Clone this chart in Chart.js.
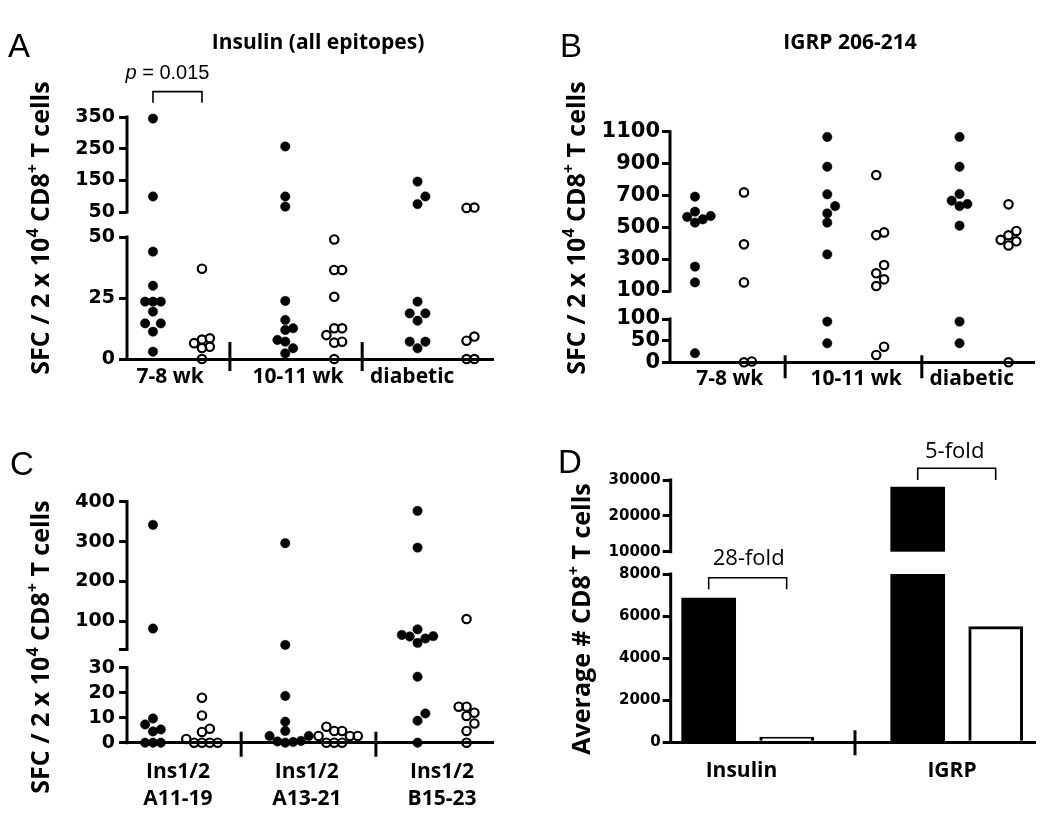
<!DOCTYPE html>
<html>
<head>
<meta charset="utf-8">
<script src="https://cdn.jsdelivr.net/npm/chart.js@4/dist/chart.umd.min.js"></script>
<style>
  html, body { margin: 0; padding: 0; background: #fff; }
  #wrap { position: relative; width: 1050px; height: 825px; }
  canvas { position: absolute; }
</style>
</head>
<body>
<div id="wrap">
  <canvas id="cA" width="525" height="410" style="left:0;top:0"></canvas>
  <canvas id="cB" width="525" height="410" style="left:525px;top:0"></canvas>
  <canvas id="cC" width="525" height="415" style="left:0;top:410px"></canvas>
  <canvas id="cD" width="525" height="415" style="left:525px;top:410px"></canvas>
</div>
<script>
// values (SFC / 2x10^4 CD8+ T cells), filled = one strain, open = the other
const AGE_GROUPS = ['7-8 wk', '10-11 wk', 'diabetic'];

// A - insulin (all epitopes)
const INS_FILLED = [
  [345, 99, 44, 30, 23.5, 23.5, 23.5, 19.4, 14.6, 14.6, 11.2, 3],
  [257, 99, 67, 23.8, 16, 12.6, 11.9, 7.8, 7.1, 4.4, 2.3],
  [146, 99, 75, 23.5, 18.7, 18.7, 15.7, 7.1, 7.1, 4.4]
];
const INS_OPEN = [
  [37, 8.5, 8, 6.5, 5, 4.5, 0],
  [49, 36.5, 36.5, 25.5, 12.6, 12.6, 9.8, 7.1, 6.7, 0],
  [64, 63, 9.2, 7.5, 0, 0]
];
const A_TICKS_LOW = [0, 25, 50];
const A_TICKS_UP = [50, 150, 250, 350];

// B - IGRP 206-214
const IGRP_FILLED = [
  [692, 598, 571, 565, 550, 529, 253, 154, 21],
  [1067, 880, 707, 633, 587, 529, 330, 94, 44],
  [1067, 880, 709, 667, 646, 633, 510, 94, 44]
];
const IGRP_OPEN = [
  [719, 393, 154, 2, 0],
  [828, 468, 451, 263, 211, 173, 131, 36, 17],
  [644, 477, 450, 421, 412, 386, 0]
];
const B_TICKS_LOW = [0, 50, 100];
const B_TICKS_UP = [100, 300, 500, 700, 900, 1100];

// C - single insulin epitopes
const EPITOPES = [['Ins1/2', 'A11-19'], ['Ins1/2', 'A13-21'], ['Ins1/2', 'B15-23']];
const EPI_FILLED = [
  [342, 82, 9.7, 7.3, 5.3, 4.5, 0, 0, 0],
  [296, 41, 18.7, 8.4, 4.7, 2.7, 2.7, 0.7, 0.5, 0.3, 0],
  [377, 285, 80, 66, 63, 62, 57, 46, 26.4, 11.7, 8.8, 0]
];
const EPI_OPEN = [
  [18, 10.9, 5.6, 4.3, 1.5, 0, 0, 0, 0],
  [6.4, 4.7, 4.7, 2.7, 2.7, 2.7, 0, 0, 0],
  [106, 14.4, 14.4, 12, 10.7, 7.7, 4.7, 0]
];
const C_TICKS_LOW = [0, 10, 20, 30];
const C_TICKS_UP = [30, 100, 200, 300, 400];

// D - average number of CD8+ T cells
const D_CATS = ['Insulin', 'IGRP'];
const D_FILLED = [6850, 28000];
const D_OPEN = [250, 5500];
const D_TICKS_LOW = [0, 2000, 4000, 6000, 8000];
const D_TICKS_UP = [10000, 20000, 30000];

const SFC_TITLE = [{t: 'SFC / 2 x 10'}, {t: '4', sup: true}, {t: ' CD8'}, {t: '+', sup: true}, {t: ' T cells'}];
const AVG_TITLE = [{t: 'Average # CD8'}, {t: '+', sup: true}, {t: ' T cells'}];

const SANS = "'Open Sans'";
const TICKFONT = "'DejaVu Sans'";

// broken axis: value -> display units (display units are pixels of the plot area)
function makeBreak(b) {
  b.total = b.lowH + b.gapH + b.upH;
  b.low = v => v / b.lowMax * b.lowH;
  b.up = v => b.lowH + b.gapH + (v - b.upMin) / (b.upMax - b.upMin) * b.upH;
  b.map = v => v <= b.lowMax ? b.low(v) : b.up(v);
  return b;
}

// simple beeswarm so equal values sit side by side
function swarm(values, base, step, tol, disp) {
  const order = [0, 1, -1, 2, -2, 3, -3];
  const placed = [];
  return values.slice().sort((a, b) => a - b).map(v => {
    const y = disp(v);
    const k = order.find(o => !placed.some(p => p.k === o && Math.abs(p.y - y) < tol));
    placed.push({k, y});
    return {x: base + k * step, y};
  });
}

function line(ctx, x1, y1, x2, y2) {
  ctx.beginPath(); ctx.moveTo(x1, y1); ctx.lineTo(x2, y2); ctx.stroke();
}

function drawRich(ctx, parts, cx, cy, font) {
  let w = 0;
  parts.forEach(p => { ctx.font = (p.italic ? 'italic ' : '') + font; p.w = ctx.measureText(p.t).width; w += p.w; });
  let x = cx - w / 2;
  ctx.textBaseline = 'middle'; ctx.textAlign = 'left';
  parts.forEach(p => { ctx.font = (p.italic ? 'italic ' : '') + font; ctx.fillText(p.t, x, cy); x += p.w; });
}

function drawVTitle(ctx, parts, cx, cy, size) {
  const big = `bold ${size}px ${SANS}`, small = `bold ${Math.round(size * 0.62)}px ${SANS}`;
  ctx.save();
  ctx.translate(cx, cy);
  ctx.rotate(-Math.PI / 2);
  let w = 0;
  parts.forEach(p => { ctx.font = p.sup ? small : big; p.w = ctx.measureText(p.t).width; w += p.w; });
  let x = -w / 2;
  ctx.textBaseline = 'middle'; ctx.textAlign = 'left';
  parts.forEach(p => { ctx.font = p.sup ? small : big; ctx.fillText(p.t, x, p.sup ? -size * 0.33 : 0); x += p.w; });
  ctx.restore();
}

function decoPlugin(cfg) {
  const b = cfg.brk;
  return {
    id: 'deco',
    afterDatasetsDraw(chart) {
      if (!cfg.whiteGap) return;
      const {ctx, chartArea: a, scales: {y}} = chart;
      const yt = y.getPixelForValue(b.lowH + b.gapH), yb = y.getPixelForValue(b.lowH);
      ctx.save();
      ctx.fillStyle = '#fff';
      ctx.fillRect(a.left + 2, yt, a.right - a.left, yb - yt);
      ctx.restore();
    },
    afterDraw(chart) {
      const {ctx, chartArea: a, scales: {x, y}} = chart;
      ctx.save();
      ctx.strokeStyle = '#000'; ctx.fillStyle = '#000';
      ctx.lineWidth = 3; ctx.lineCap = 'butt';
      // the two pieces of the y axis
      line(ctx, a.left, y.getPixelForValue(0) + 1.5, a.left, y.getPixelForValue(b.lowH) - 1.5);
      line(ctx, a.left, y.getPixelForValue(b.lowH + b.gapH) + 1.5, a.left, y.getPixelForValue(b.total) - 1.5);
      // group separators on the x axis
      cfg.sepPos.forEach(s => {
        const px = x.getPixelForValue(s);
        line(ctx, px, a.bottom - cfg.sepUp, px, a.bottom + cfg.sepDown);
      });
      // brackets
      ctx.lineWidth = 1.6;
      (cfg.brackets || []).forEach(br => {
        const x1 = x.getPixelForValue(br.x1), x2 = x.getPixelForValue(br.x2);
        const py = y.getPixelForValue(b.map(br.top));
        ctx.beginPath();
        ctx.moveTo(x1, py + br.leg); ctx.lineTo(x1, py); ctx.lineTo(x2, py); ctx.lineTo(x2, py + br.leg);
        ctx.stroke();
        drawRich(ctx, br.parts, (x1 + x2) / 2 + br.dx, py + br.dy, br.font);
      });
      // panel letter, title, y title
      ctx.textAlign = 'left'; ctx.textBaseline = 'alphabetic';
      ctx.font = `33px 'Liberation Sans'`;
      ctx.fillText(cfg.letter.t, cfg.letter.x, cfg.letter.y);
      if (cfg.title) {
        ctx.textAlign = 'center'; ctx.textBaseline = 'middle';
        ctx.font = `bold 21px ${SANS}`;
        ctx.fillText(cfg.title.t, cfg.title.x, cfg.title.y);
      }
      drawVTitle(ctx, cfg.ytitle.parts, cfg.ytitle.x, cfg.ytitle.y, cfg.ytitle.size);
      ctx.restore();
    }
  };
}

function yTickList(cfg) {
  const b = cfg.brk;
  return cfg.ticksLow.map(v => ({value: b.low(v), label: String(v)}))
    .concat(cfg.ticksUp.map(v => ({value: b.up(v), label: (cfg.hideUpMin && v === b.upMin) ? '' : String(v)})));
}

function baseOptions(cfg) {
  const a = cfg.area, yt = yTickList(cfg);
  return {
    responsive: false, animation: false, events: [],
    layout: {padding: {left: 0, top: a.top, right: cfg.W - a.right, bottom: 0}},
    plugins: {legend: {display: false}, tooltip: {enabled: false}},
    scales: {
      x: {
        type: 'linear', min: cfg.xMin, max: cfg.xMax, offset: false,
        afterFit: s => { s.height = cfg.H - a.bottom; },
        afterBuildTicks: s => { s.ticks = cfg.labelPos.map(v => ({value: v})); },
        ticks: {
          autoSkip: false, maxRotation: 0, color: '#000', padding: cfg.xPad,
          font: {family: SANS, size: 21, weight: 'bold', lineHeight: 1.27},
          callback: (v, i) => cfg.labels[i]
        },
        grid: {display: false, drawTicks: false},
        border: {display: true, color: '#000', width: 3}
      },
      y: {
        type: 'linear', min: 0, max: cfg.brk.total,
        afterFit: s => { s.width = a.left; },
        afterBuildTicks: s => { s.ticks = yt.map(t => ({value: t.value})); },
        ticks: {
          autoSkip: false, color: '#000', padding: cfg.yPad,
          font: {family: TICKFONT, size: cfg.tickSize, weight: 'bold'},
          callback: (v, i) => yt[i].label
        },
        grid: {display: true, drawOnChartArea: false, drawTicks: true, tickLength: 8, color: '#000', lineWidth: 3},
        border: {display: false}
      }
    }
  };
}

function scatterPanel(id, cfg) {
  const b = makeBreak(cfg.brk);
  const filled = [], open = [];
  cfg.groupBase.forEach((g, i) => {
    filled.push(...swarm(cfg.filled[i], g, 0.16, 8.5, b.map));
    open.push(...swarm(cfg.open[i], g + 1, 0.16, 8.5, b.map));
  });
  new Chart(document.getElementById(id), {
    type: 'scatter',
    data: {datasets: [
      {data: filled, pointRadius: 4.7, backgroundColor: '#000', borderColor: '#000', borderWidth: 0.5, clip: false},
      {data: open, pointRadius: 4.2, backgroundColor: 'rgba(0,0,0,0)', borderColor: '#000', borderWidth: 2.2, clip: false}
    ]},
    options: baseOptions(cfg),
    plugins: [decoPlugin(cfg)]
  });
}

function barPanel(id, cfg) {
  const b = makeBreak(cfg.brk);
  new Chart(document.getElementById(id), {
    type: 'bar',
    data: {datasets: [
      {data: D_FILLED.map((v, i) => ({x: cfg.filledX[i], y: b.map(v)})), backgroundColor: '#000', borderWidth: 0,
       barThickness: 54, grouped: false},
      {data: D_OPEN.map((v, i) => ({x: cfg.openX[i], y: b.map(v)})), backgroundColor: '#fff', borderColor: '#000',
       borderWidth: 3, barThickness: 54, grouped: false}
    ]},
    options: baseOptions(cfg),
    plugins: [decoPlugin(cfg)]
  });
}

scatterPanel('cA', {
  W: 525, H: 410, area: {left: 127, right: 493, top: 117, bottom: 359},
  xMin: -0.53, xMax: 6.94, groupBase: [0, 2.7, 5.4],
  labelPos: [0.35, 2.96, 5.29], labels: AGE_GROUPS,
  sepPos: [1.57, 4.27], sepUp: 17, sepDown: 12,
  brk: {lowMax: 50, upMin: 50, upMax: 350, lowH: 122, gapH: 25, upH: 95},
  ticksLow: A_TICKS_LOW, ticksUp: A_TICKS_UP, tickSize: 19, yPad: 4, xPad: 5,
  filled: INS_FILLED, open: INS_OPEN,
  letter: {t: 'A', x: 8, y: 57},
  title: {t: 'Insulin (all epitopes)', x: 318, y: 43},
  ytitle: {parts: SFC_TITLE, x: 42, y: 228, size: 25},
  brackets: [{x1: 0, x2: 1, top: 430, leg: 11, dx: -10, dy: -18, font: "20px 'Liberation Sans'",
              parts: [{t: 'p', italic: true}, {t: ' = 0.015'}]}]
});

scatterPanel('cB', {
  W: 525, H: 410, area: {left: 145, right: 509, top: 131.7, bottom: 362.3},
  xMin: -0.51, xMax: 6.92, groupBase: [0, 2.7, 5.4],
  labelPos: [0.71, 3.29, 5.65], labels: AGE_GROUPS,
  sepPos: [1.84, 4.63], sepUp: 7, sepDown: 16,
  brk: {lowMax: 100, upMin: 100, upMax: 1100, lowH: 43.3, gapH: 28, upH: 159.3},
  ticksLow: B_TICKS_LOW, ticksUp: B_TICKS_UP, tickSize: 21, yPad: 2, xPad: 3,
  filled: IGRP_FILLED, open: IGRP_OPEN,
  letter: {t: 'B', x: 35, y: 57},
  title: {t: 'IGRP 206-214', x: 325, y: 43},
  ytitle: {parts: SFC_TITLE, x: 53, y: 228, size: 25}
});

scatterPanel('cC', {
  W: 525, H: 415, area: {left: 127, right: 493, top: 91.7, bottom: 332.7},
  xMin: -0.53, xMax: 6.94, groupBase: [0, 2.7, 5.4],
  labelPos: [0.51, 3.14, 5.9], labels: EPITOPES,
  sepPos: [1.8, 4.55], sepUp: 11, sepDown: 14,
  brk: {lowMax: 30, upMin: 30, upMax: 400, lowH: 75, gapH: 18.4, upH: 147.6}, hideUpMin: true,
  ticksLow: C_TICKS_LOW, ticksUp: C_TICKS_UP, tickSize: 19, yPad: 4, xPad: 16,
  filled: EPI_FILLED, open: EPI_OPEN,
  letter: {t: 'C', x: 10, y: 65},
  ytitle: {parts: SFC_TITLE, x: 42, y: 237, size: 25}
});

barPanel('cD', {
  W: 525, H: 415, area: {left: 145.7, right: 510, top: 70, bottom: 332.3},
  xMin: -0.487, xMax: 4.184, filledX: [0, 2.68], openX: [1, 3.68],
  labelPos: [0.42, 3.12], labels: D_CATS,
  sepPos: [1.876], sepUp: 12, sepDown: 13,
  brk: {lowMax: 8000, upMin: 10000, upMax: 30000, lowH: 168.3, gapH: 22.3, upH: 71.7}, whiteGap: true,
  ticksLow: D_TICKS_LOW, ticksUp: D_TICKS_UP, tickSize: 15, yPad: 2, xPad: 15,
  letter: {t: 'D', x: 33, y: 63},
  ytitle: {parts: AVG_TITLE, x: 58, y: 209, size: 25},
  brackets: [
    {x1: 0, x2: 1, top: 7824, leg: 11.6, dx: 1, dy: -18.7, font: `22px ${SANS}`, parts: [{t: '28-fold'}]},
    {x1: 2.68, x2: 3.68, top: 33264, leg: 11.7, dx: -2, dy: -16.6, font: `22px ${SANS}`, parts: [{t: '5-fold'}]}
  ]
});
</script>
</body>
</html>
